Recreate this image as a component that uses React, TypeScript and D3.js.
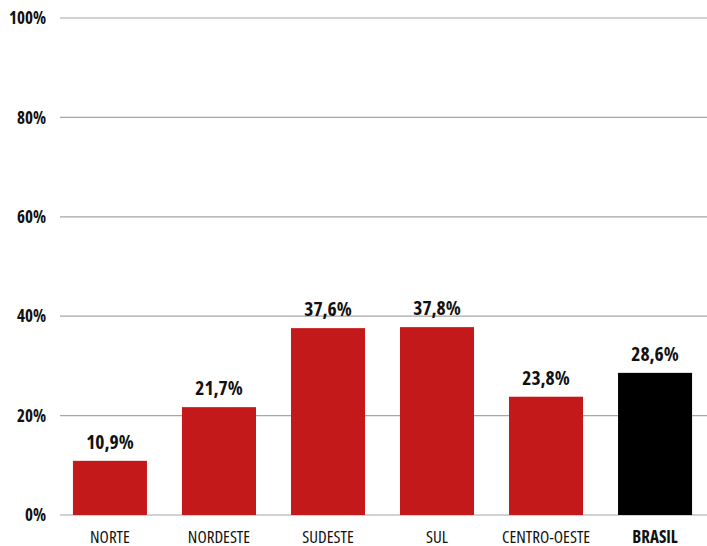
import { useEffect, useRef } from 'react';
import * as d3 from 'd3';

const regions = ['NORTE', 'NORDESTE', 'SUDESTE', 'SUL', 'CENTRO-OESTE', 'BRASIL'];
const values = [10.9, 21.7, 37.6, 37.8, 23.8, 28.6];
const yTicks = [0, 20, 40, 60, 80, 100];

const FONT = "'Open Sans', 'DejaVu Sans', sans-serif";

export default function App() {
  const svgRef = useRef<SVGSVGElement>(null);

  useEffect(() => {
    if (!svgRef.current) return;
    document.body.style.margin = '0';
    const width = 707;
    const height = 546;

    const svg = d3.select(svgRef.current);
    svg.selectAll('*').remove();

    const x = d3.scaleBand<string>()
      .domain(regions)
      .range([55.5, 709.5])
      .paddingInner(0.321)
      .paddingOuter(0.16);

    const y = d3.scaleLinear()
      .domain([0, 100])
      .range([515, 18]);

    // grid lines
    svg.append('g')
      .selectAll('line')
      .data(yTicks)
      .join('line')
      .attr('x1', 60)
      .attr('x2', 707)
      .attr('y1', d => y(d))
      .attr('y2', d => y(d))
      .attr('stroke', '#a6a6a6')
      .attr('stroke-width', 1.2);

    // y tick labels
    svg.append('g')
      .selectAll('text')
      .data(yTicks)
      .join('text')
      .attr('x', 46)
      .attr('y', d => y(d))
      .attr('dy', '0.36em')
      .attr('text-anchor', 'end')
      .attr('font-family', FONT)
      .style('font-stretch', '75%')
      .attr('font-weight', 'bold')
      .attr('font-size', '17px')
      .attr('fill', '#111')
      .text(d => `${d}%`);

    // bars
    svg.append('g')
      .selectAll('rect')
      .data(values)
      .join('rect')
      .attr('x', (d, i) => x(regions[i])!)
      .attr('width', x.bandwidth())
      .attr('y', d => y(d))
      .attr('height', d => y(0) - y(d))
      .attr('fill', (d, i) => (regions[i] === 'BRASIL' ? '#000000' : '#c3191b'));

    // value labels
    svg.append('g')
      .selectAll('text')
      .data(values)
      .join('text')
      .attr('x', (d, i) => x(regions[i])! + x.bandwidth() / 2)
      .attr('y', d => y(d) - 12)
      .attr('text-anchor', 'middle')
      .attr('font-family', FONT)
      .style('font-stretch', '75%')
      .attr('font-weight', 'bold')
      .attr('font-size', '19.5px')
      .attr('fill', '#111')
      .text(d => `${d.toFixed(1).replace('.', ',')}%`);

    // category labels
    svg.append('g')
      .selectAll('text')
      .data(regions)
      .join('text')
      .attr('x', d => x(d)! + x.bandwidth() / 2)
      .attr('y', 543)
      .attr('text-anchor', 'middle')
      .attr('font-family', FONT)
      .style('font-stretch', '75%')
      .attr('font-weight', d => (d === 'BRASIL' ? 'bold' : 'normal'))
      .attr('font-size', '17px')
      .attr('fill', '#111')
      .text(d => d);

    svg.attr('width', width).attr('height', height);
  }, []);

  return (
    <svg
      ref={svgRef}
      width={707}
      height={546}
      style={{ position: 'absolute', left: 0, top: 0, display: 'block', background: '#fff' }}
    />
  );
}
